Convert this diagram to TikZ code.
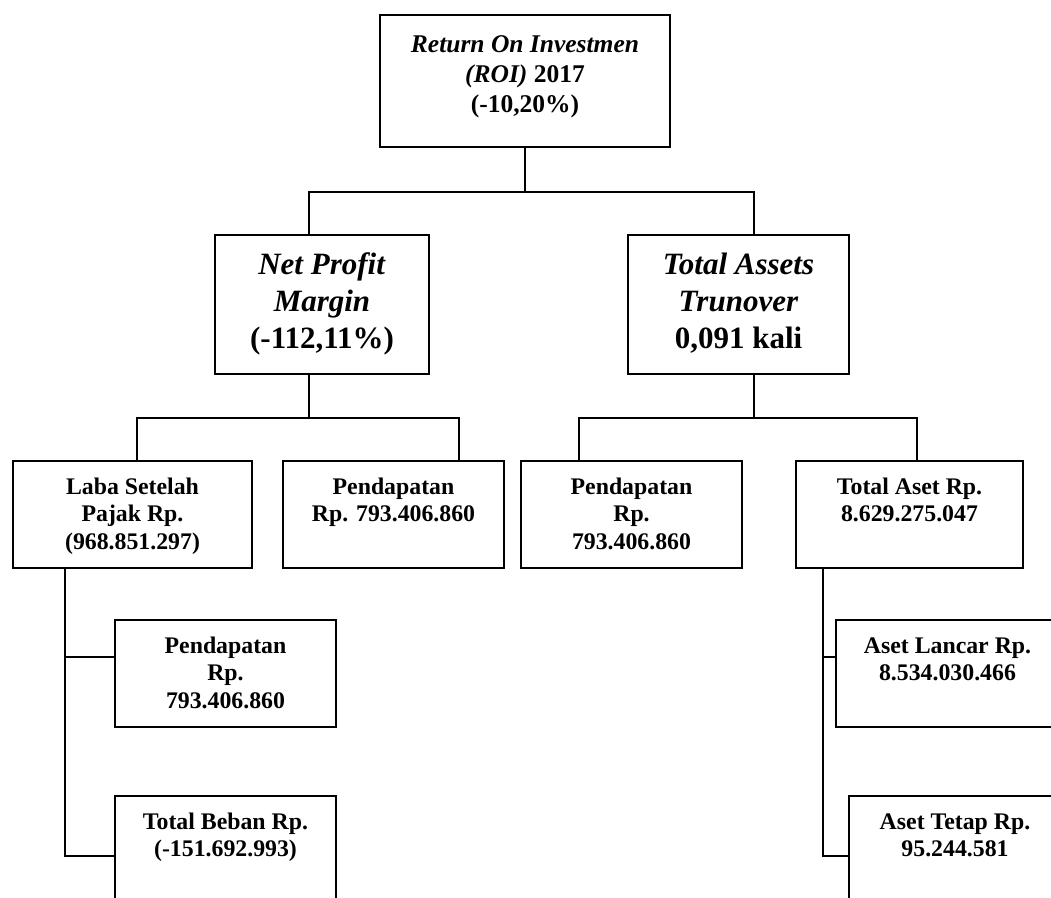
\documentclass[tikz,border=0pt]{standalone}
\usepackage{fontspec}
\setmainfont{Liberation Serif}
\usetikzlibrary{calc}

% box contents: width, height, text; text hangs from the top of the box
\newcommand\toptext[3]{\parbox[c][#2][t]{#1}{\centering\fontsize{25.5pt}{30pt}\selectfont\bfseries\rule{0pt}{37pt}#3}}
\newcommand\midtext[3]{\parbox[c][#2][t]{#1}{\centering\fontsize{31pt}{37pt}\selectfont\bfseries\rule{0pt}{39pt}#3}}
\newcommand\lowtext[3]{\parbox[c][#2][t]{#1}{\centering\fontsize{23.8pt}{27.5pt}\selectfont\bfseries\rule{0pt}{33pt}#3}}

\tikzset{
  box/.style={draw, rectangle, line width=2pt, inner sep=0pt, outer sep=0pt, anchor=north west},
  wire/.style={draw, line width=2pt}
}

\begin{document}
\begin{tikzpicture}[x=1pt,y=-1pt]
\useasboundingbox (0,0) rectangle (1051,897);
\clip (0,0) rectangle (1051,897);

% level 1
\node[box] (roi) at (380,15) {\toptext{290pt}{132pt}{\textit{Return On Investmen}\\\textit{(ROI)} 2017\\(-10,20\%)}};

% level 2
\node[box] (npm) at (215,235) {\midtext{214pt}{139pt}{\textit{Net Profit}\\\textit{Margin}\\(-112,11\%)}};
\node[box] (tat) at (628,235) {\midtext{221pt}{139pt}{\textit{Total Assets}\\\textit{Trunover}\\0,091 kali}};

% level 3
\node[box] (laba) at (13,461) {\lowtext{239pt}{107pt}{Laba Setelah\\Pajak Rp.\\(968.851.297)}};
\node[box] (pendA) at (283,461) {\lowtext{221pt}{107pt}{Pendapatan\\Rp. 793.406.860}};
\node[box] (pendB) at (521,461) {\lowtext{221pt}{107pt}{Pendapatan\\Rp.\\793.406.860}};
\node[box] (aset) at (796,461) {\lowtext{227pt}{107pt}{Total Aset Rp.\\8.629.275.047}};

% level 4
\node[box] (pendC) at (115,620) {\lowtext{221pt}{107pt}{Pendapatan\\Rp.\\793.406.860}};
\node[box] (beban) at (115,796) {\lowtext{221pt}{107pt}{Total Beban Rp.\\(-151.692.993)}};
\node[box] (lancar) at (836,620) {\lowtext{223pt}{107pt}{Aset Lancar Rp.\\8.534.030.466}};
\node[box] (tetap) at (849,796) {\lowtext{212pt}{107pt}{Aset Tetap Rp.\\95.244.581}};

% attachment points
\coordinate (npmIn) at ($(npm.north west)+(94,0)$);
\coordinate (tatIn) at ($(tat.north west)+(126,0)$);
\coordinate (npmOut) at ($(npm.south west)+(94,0)$);
\coordinate (tatOut) at ($(tat.south west)+(126,0)$);
\coordinate (labaIn) at ($(laba.north west)+(124,0)$);
\coordinate (pendAIn) at ($(pendA.north west)+(176,0)$);
\coordinate (pendBIn) at ($(pendB.north west)+(58,0)$);
\coordinate (asetIn) at ($(aset.north west)+(121,0)$);
\coordinate (labaOut) at ($(laba.south west)+(52,0)$);
\coordinate (asetOut) at ($(aset.south west)+(27,0)$);
\coordinate (pendCIn) at ($(pendC.north west)+(0,37)$);
\coordinate (bebanIn) at ($(beban.north west)+(0,60)$);
\coordinate (lancarIn) at ($(lancar.north west)+(0,37)$);
\coordinate (tetapIn) at ($(tetap.north west)+(0,60)$);

% ROI -> NPM, TAT
\draw[wire] (roi.south) -- ++(0,45);
\draw[wire] (npmIn) -- ++(0,-43) -| (tatIn);

% NPM -> Laba, Pendapatan
\draw[wire] (npmOut) -- ++(0,44);
\draw[wire] (labaIn) -- ++(0,-43) -| (pendAIn);

% TAT -> Pendapatan, Total Aset
\draw[wire] (tatOut) -- ++(0,44);
\draw[wire] (pendBIn) -- ++(0,-43) -| (asetIn);

% Laba -> Pendapatan, Total Beban
\draw[wire] (labaOut) |- (bebanIn);
\draw[wire] (labaOut |- pendCIn) -- (pendCIn);

% Total Aset -> Aset Lancar, Aset Tetap
\draw[wire] (asetOut) |- (tetapIn);
\draw[wire] (asetOut |- lancarIn) -- (lancarIn);
\end{tikzpicture}
\end{document}
